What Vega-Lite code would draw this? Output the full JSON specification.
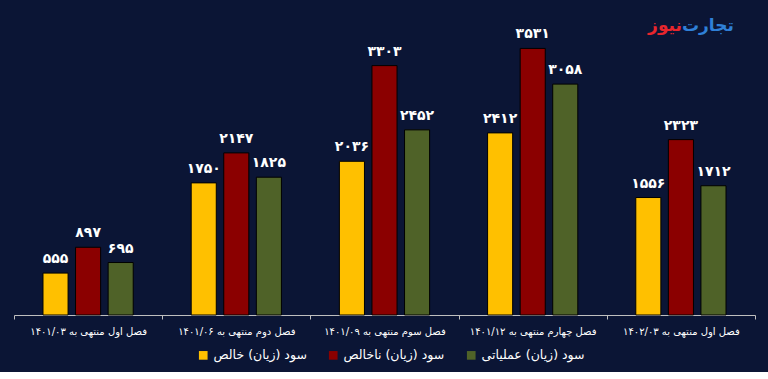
{
  "$schema": "https://vega.github.io/schema/vega-lite/v6.json",
  "width": 741,
  "height": 302,
  "padding": {"left": 13, "top": 13, "right": 14, "bottom": 10},
  "background": "#0b1535",
  "config": {
    "view": {"stroke": null},
    "font": "DejaVu Sans"
  },
  "data": {
    "values": [
      {"q": "فصل اول منتهی به ۱۴۰۱/۰۳", "s": "سود (زیان) خالص", "v": 555, "label": "۵۵۵"},
      {"q": "فصل اول منتهی به ۱۴۰۱/۰۳", "s": "سود (زیان) ناخالص", "v": 897, "label": "۸۹۷"},
      {"q": "فصل اول منتهی به ۱۴۰۱/۰۳", "s": "سود (زیان) عملیاتی", "v": 695, "label": "۶۹۵"},
      {"q": "فصل دوم منتهی به ۱۴۰۱/۰۶", "s": "سود (زیان) خالص", "v": 1750, "label": "۱۷۵۰"},
      {"q": "فصل دوم منتهی به ۱۴۰۱/۰۶", "s": "سود (زیان) ناخالص", "v": 2147, "label": "۲۱۴۷"},
      {"q": "فصل دوم منتهی به ۱۴۰۱/۰۶", "s": "سود (زیان) عملیاتی", "v": 1825, "label": "۱۸۲۵"},
      {"q": "فصل سوم منتهی به ۱۴۰۱/۰۹", "s": "سود (زیان) خالص", "v": 2036, "label": "۲۰۳۶"},
      {"q": "فصل سوم منتهی به ۱۴۰۱/۰۹", "s": "سود (زیان) ناخالص", "v": 3303, "label": "۳۳۰۳"},
      {"q": "فصل سوم منتهی به ۱۴۰۱/۰۹", "s": "سود (زیان) عملیاتی", "v": 2452, "label": "۲۴۵۲"},
      {"q": "فصل چهارم منتهی به ۱۴۰۱/۱۲", "s": "سود (زیان) خالص", "v": 2412, "label": "۲۴۱۲"},
      {"q": "فصل چهارم منتهی به ۱۴۰۱/۱۲", "s": "سود (زیان) ناخالص", "v": 3531, "label": "۳۵۳۱"},
      {"q": "فصل چهارم منتهی به ۱۴۰۱/۱۲", "s": "سود (زیان) عملیاتی", "v": 3058, "label": "۳۰۵۸"},
      {"q": "فصل اول منتهی به ۱۴۰۲/۰۳", "s": "سود (زیان) خالص", "v": 1556, "label": "۱۵۵۶"},
      {"q": "فصل اول منتهی به ۱۴۰۲/۰۳", "s": "سود (زیان) ناخالص", "v": 2323, "label": "۲۳۲۳"},
      {"q": "فصل اول منتهی به ۱۴۰۲/۰۳", "s": "سود (زیان) عملیاتی", "v": 1712, "label": "۱۷۱۲"}
    ]
  },
  "layer": [
    {
      "mark": {"type": "bar", "stroke": "#000000", "strokeWidth": 1},
      "encoding": {
        "x": {
          "field": "q", "type": "nominal", "sort": null, "title": null,
          "scale": {"paddingInner": 0, "paddingOuter": 0},
          "axis": {
            "labelAngle": 0, "labelColor": "#ffffff", "labelFontSize": 10, "labelFontWeight": "normal",
            "labelPadding": 7, "domainColor": "#bfbfbf", "tickColor": "#bfbfbf", "tickSize": 4,
            "tickBand": "extent", "grid": false
          }
        },
        "xOffset": {
          "field": "s", "type": "nominal",
          "sort": ["سود (زیان) خالص", "سود (زیان) ناخالص", "سود (زیان) عملیاتی"],
          "scale": {"paddingInner": 0.23, "paddingOuter": 0.89}
        },
        "y": {"field": "v", "type": "quantitative", "scale": {"domain": [0, 4000]}, "axis": null},
        "color": {
          "field": "s", "type": "nominal",
          "scale": {
            "domain": ["سود (زیان) خالص", "سود (زیان) ناخالص", "سود (زیان) عملیاتی"],
            "range": ["#ffc000", "#8b0000", "#4f6228"]
          },
          "legend": {
            "orient": "none", "legendX": 183, "legendY": 336, "direction": "horizontal", "title": null,
            "symbolType": "square", "symbolSize": 75, "symbolStrokeWidth": 0,
            "labelColor": "#ffffff", "labelFontSize": 12.5, "labelFont": "DejaVu Sans",
            "columnPadding": 20
          }
        }
      }
    },
    {
      "mark": {"type": "text", "baseline": "bottom", "dy": -7, "color": "#ffffff", "fontSize": 14, "fontWeight": "bold"},
      "encoding": {
        "x": {"field": "q", "type": "nominal", "sort": null},
        "xOffset": {
          "field": "s", "type": "nominal",
          "sort": ["سود (زیان) خالص", "سود (زیان) ناخالص", "سود (زیان) عملیاتی"]
        },
        "y": {"field": "v", "type": "quantitative"},
        "text": {"field": "label"}
      }
    },
    {
      "data": {"values": [{"t": "تجارت", "q": "فصل اول منتهی به ۱۴۰۲/۰۳", "v": 3830}]},
      "mark": {"type": "text", "align": "left", "baseline": "middle", "dx": 1, "color": "#2f80d8", "fontSize": 17, "fontWeight": "bold"},
      "encoding": {
        "x": {"field": "q", "type": "nominal", "sort": null},
        "y": {"field": "v", "type": "quantitative"},
        "text": {"field": "t"}
      }
    },
    {
      "data": {"values": [{"t": "نیوز", "q": "فصل اول منتهی به ۱۴۰۲/۰۳", "v": 3830}]},
      "mark": {"type": "text", "align": "right", "baseline": "middle", "dx": 1, "color": "#e8262d", "fontSize": 17, "fontWeight": "bold"},
      "encoding": {
        "x": {"field": "q", "type": "nominal", "sort": null},
        "y": {"field": "v", "type": "quantitative"},
        "text": {"field": "t"}
      }
    }
  ]
}
